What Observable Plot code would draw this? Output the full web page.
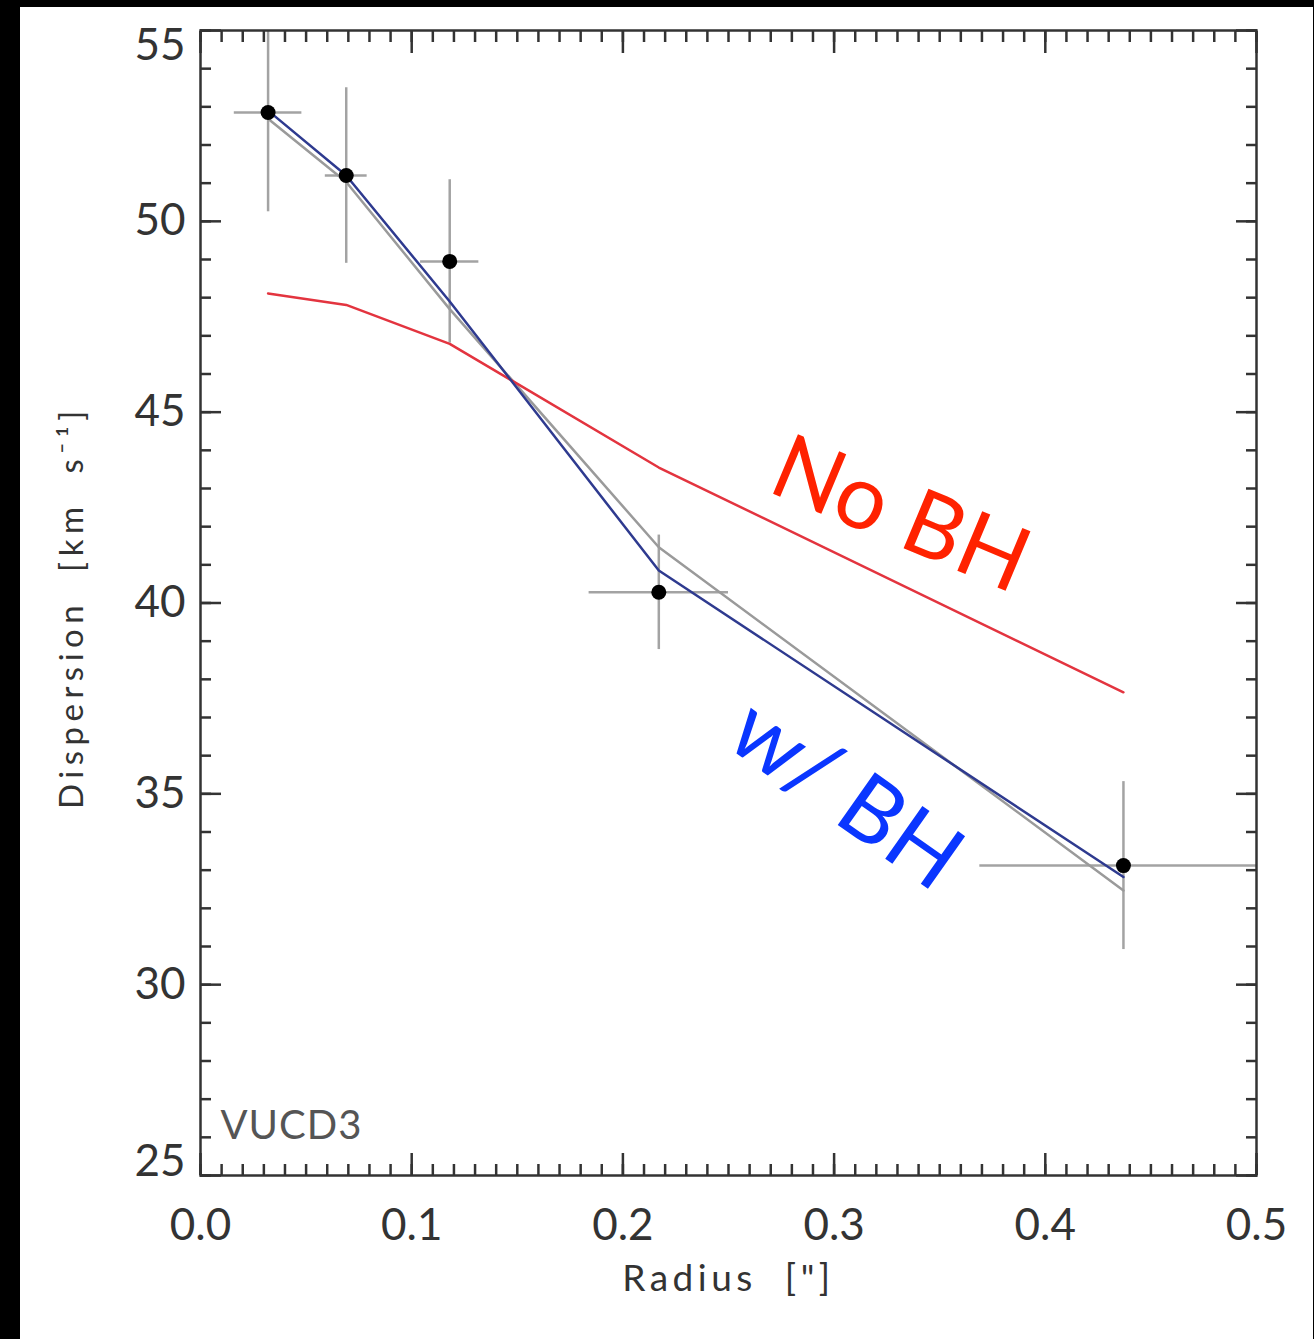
<!DOCTYPE html>
<html><head><meta charset="utf-8">
<script src="https://cdn.jsdelivr.net/npm/d3@7"></script>
<script src="https://cdn.jsdelivr.net/npm/@observablehq/plot@0.6"></script>
<style>
html,body{margin:0;padding:0;background:#000;width:1314px;height:1339px;overflow:hidden}
#chart{position:absolute;left:20px;top:7px;width:1293px;height:1332px;background:#fff}
</style></head><body><div id="chart"></div>
<script>
// measured data points (radius in arcsec, dispersion in km/s)
const radius = [0.032, 0.069, 0.118, 0.217, 0.437];
const dispersion = [52.85, 51.2, 48.95, 40.28, 33.12];
const radiusErr = [0.016, 0.0099, 0.0138, 0.033, 0.068];
const dispersionErr = [2.6, 2.3, 2.14, 1.5, 2.2];
// model curves
const modelWithBH = [52.9, 51.2, 47.9, 40.85, 32.82];
const modelGray = [52.69, 51.03, 47.7, 41.46, 32.47];
const modelNoBH = [48.11, 47.81, 46.79, 43.55, 37.66];
// ticks
const xMajorTicks = [0, 0.1, 0.2, 0.3, 0.4, 0.5];
const xMinorTicks = d3.range(0, 51).map(i => i / 100);
const yMajorTicks = [25, 30, 35, 40, 45, 50, 55];
const yMinorTicks = d3.range(25, 56);
const yInnerLabels = [30, 35, 40, 45, 50];
// annotations
const annoText = ["No BH", "w/ BH"];
const annoX = [0.3314, 0.3054];
const annoY = [42.29, 34.96];
const annoRotate = [22.7, 35.2];
const annoColor = ["#ff2200", "#0a36ff"];
const xTitle = "Radius\u00a0\u00a0[\"]";
const yTitle = "Dispersion\u00a0\u00a0[km\u00a0\u00a0s\u207b\u00b9]";
const panelLabel = "VUCD3";

const points = radius.map((r, i) => ({
  r, s: dispersion[i], re: radiusErr[i], se: dispersionErr[i],
  bh: modelWithBH[i], gray: modelGray[i], nobh: modelNoBH[i]
}));
const annos = annoText.map((t, i) => ({t, x: annoX[i], y: annoY[i], rot: annoRotate[i], c: annoColor[i]}));

const tickStyle = {stroke: "#333", strokeWidth: 2.5, fill: "none"};
const labelStyle = {fontSize: 44, fill: "#333", label: null};

const chart = Plot.plot({
  width: 1293, height: 1332,
  marginLeft: 180, marginTop: 23, marginRight: 57, marginBottom: 164,
  x: {domain: [0, 0.5], axis: null},
  y: {domain: [25, 55], axis: null},
  style: {fontFamily: "Lato, sans-serif", background: "#fff", color: "#333", overflow: "visible"},
  marks: [
    Plot.ruleX(points, {x: "r", y1: d => d.s - d.se, y2: d => d.s + d.se, stroke: "#a3a3a3", strokeWidth: 2.5, clip: true}),
    Plot.ruleY(points, {y: "s", x1: d => d.r - d.re, x2: d => d.r + d.re, stroke: "#a3a3a3", strokeWidth: 2.5, clip: true}),
    Plot.line(points, {x: "r", y: "gray", stroke: "#9a9a9a", strokeWidth: 2.5}),
    Plot.line(points, {x: "r", y: "nobh", stroke: "#e3343f", strokeWidth: 2.5}),
    Plot.line(points, {x: "r", y: "bh", stroke: "#2e3a8f", strokeWidth: 2.5}),
    Plot.dot(points, {x: "r", y: "s", r: 7.5, fill: "#000"}),
    // inward ticks on all four sides
    Plot.axisX({ticks: xMinorTicks, anchor: "bottom", tickSize: 11, dy: -11, ...tickStyle}),
    Plot.axisX({ticks: xMajorTicks, anchor: "bottom", tickSize: 22, dy: -22, ...tickStyle}),
    Plot.axisX({ticks: xMinorTicks, anchor: "top", tickSize: 11, dy: 11, ...tickStyle}),
    Plot.axisX({ticks: xMajorTicks, anchor: "top", tickSize: 22, dy: 22, ...tickStyle}),
    Plot.axisY({ticks: yMinorTicks, anchor: "left", tickSize: 11, dx: 11, ...tickStyle}),
    Plot.axisY({ticks: yMajorTicks, anchor: "left", tickSize: 21, dx: 21, ...tickStyle}),
    Plot.axisY({ticks: yMinorTicks, anchor: "right", tickSize: 11, dx: -11, ...tickStyle}),
    Plot.axisY({ticks: yMajorTicks, anchor: "right", tickSize: 21, dx: -21, ...tickStyle}),
    Plot.frame({stroke: "#333", strokeWidth: 2.5}),
    // tick labels
    Plot.axisX({ticks: xMajorTicks, anchor: "bottom", tickSize: 0, tickPadding: 33, tickFormat: d3.format(".1f"), ...labelStyle}),
    Plot.axisY({ticks: yInnerLabels, anchor: "left", tickSize: 0, tickPadding: 15, ...labelStyle}),
    Plot.axisY({ticks: [55], anchor: "left", tickSize: 0, tickPadding: 15, dy: 15, ...labelStyle}),
    Plot.axisY({ticks: [25], anchor: "left", tickSize: 0, tickPadding: 15, dy: -14, ...labelStyle}),
    // axis titles
    Plot.text([xTitle], {text: d => d, frameAnchor: "bottom", textAnchor: "middle", lineAnchor: "middle", dy: 104, fontSize: 37, fill: "#333"}),
    Plot.text([yTitle], {text: d => d, frameAnchor: "left", textAnchor: "middle", lineAnchor: "middle", rotate: -90, dx: -128, dy: 4, fontSize: 33, fill: "#333"}),
    Plot.text([panelLabel], {text: d => d, frameAnchor: "bottom-left", textAnchor: "start", lineAnchor: "bottom", dx: 20, dy: -37, fontSize: 40, fill: "#555"}),
    // model annotations
    Plot.text(annos, {x: "x", y: "y", text: "t", rotate: "rot", fill: "c", fontSize: 90})
  ]
});
document.getElementById("chart").appendChild(chart);
// wide letter spacing of the original axis titles
d3.select(chart).selectAll("text")
  .filter(function() { return this.textContent === xTitle; })
  .style("letter-spacing", "4.5px");
d3.select(chart).selectAll("text")
  .filter(function() { return this.textContent === yTitle; })
  .style("letter-spacing", "5.5px");
d3.select(chart).selectAll("text")
  .filter(function() { return this.textContent === panelLabel; })
  .style("letter-spacing", "1px");
</script>
</body></html>
